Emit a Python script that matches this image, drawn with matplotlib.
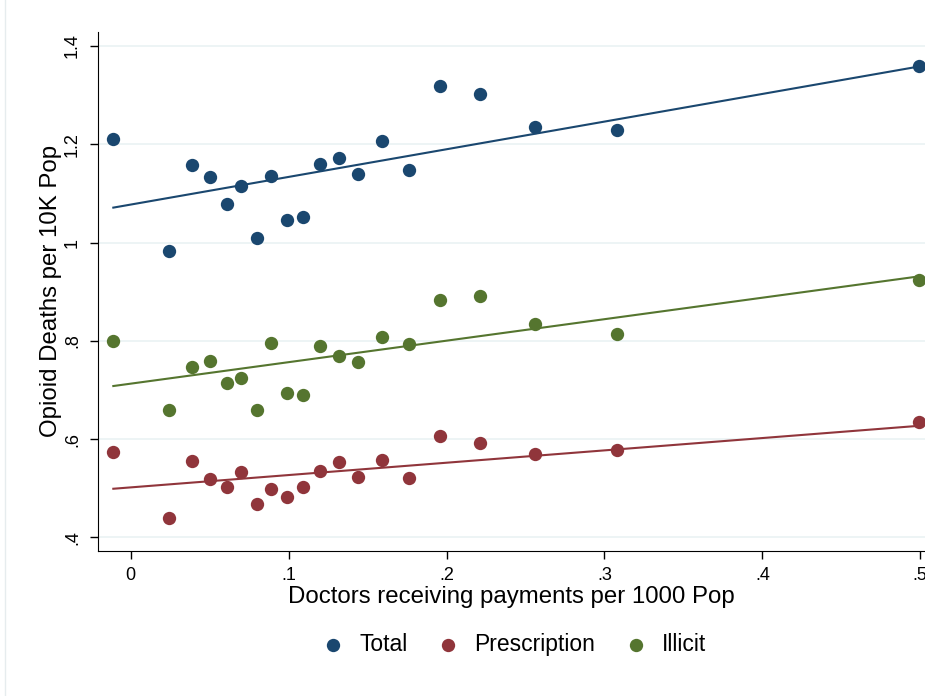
import numpy as np
import matplotlib.pyplot as plt
from matplotlib.lines import Line2D

plt.rcParams['font.family'] = ['Liberation Sans', 'DejaVu Sans']

# doctors receiving payments per 1000 pop
docs = [-0.011, 0.024, 0.039, 0.050, 0.061, 0.070, 0.080, 0.089, 0.099, 0.109,
        0.120, 0.132, 0.144, 0.159, 0.176, 0.196, 0.221, 0.256, 0.308, 0.499]
total = [1.210, 0.982, 1.157, 1.133, 1.078, 1.116, 1.010, 1.135, 1.045, 1.051,
         1.159, 1.171, 1.139, 1.206, 1.147, 1.318, 1.302, 1.235, 1.229, 1.359]
prescription = [0.573, 0.439, 0.555, 0.518, 0.502, 0.533, 0.467, 0.498, 0.482, 0.502,
                0.535, 0.553, 0.522, 0.557, 0.520, 0.606, 0.592, 0.569, 0.578, 0.635]
illicit = [0.800, 0.659, 0.747, 0.759, 0.714, 0.724, 0.659, 0.796, 0.694, 0.690,
           0.790, 0.769, 0.757, 0.808, 0.794, 0.884, 0.892, 0.835, 0.814, 0.924]

# fitted line values at the smallest and largest x
fit_total = [1.071, 1.358]
fit_prescription = [0.499, 0.627]
fit_illicit = [0.708, 0.931]

series = [('Total', total, fit_total, '#1a476f'),
          ('Prescription', prescription, fit_prescription, '#90353b'),
          ('Illicit', illicit, fit_illicit, '#55752f')]

xticks = [0, 0.1, 0.2, 0.3, 0.4, 0.5]
xticklabels = ['0', '.1', '.2', '.3', '.4', '.5']
yticks = [0.4, 0.6, 0.8, 1.0, 1.2, 1.4]
yticklabels = ['.4', '.6', '.8', '1', '1.2', '1.4']

fig = plt.figure(figsize=(9.25, 6.96), dpi=100)
ax = fig.add_axes([0.1056, 0.2088, 0.8944, 0.7457])

# faint left edge of the graph region
fig.add_artist(Line2D([0.0055, 0.0055], [0, 1], transform=fig.transFigure,
                      color='#e6ecee', lw=1))

xs = [min(docs), max(docs)]
for name, vals, fit, col in series:
    ax.scatter(docs, vals, s=92, color=col, label=name, zorder=3, linewidths=0)
    ax.plot(xs, fit, color=col, lw=1.5, zorder=2)

ax.set_xlim(-0.0209, 0.503)
ax.set_ylim(0.373, 1.429)
ax.set_xticks(xticks, labels=xticklabels)
ax.set_yticks(yticks, labels=yticklabels)
plt.setp(ax.get_yticklabels(), rotation=90, va='center')
ax.tick_params(axis='both', direction='out', length=6, width=1, labelsize=13, pad=6)
ax.yaxis.grid(True, color='#eaf2f3', lw=1.2)
ax.set_axisbelow(True)
for s in ['top', 'right']:
    ax.spines[s].set_visible(False)

ax.set_xlabel('Doctors receiving payments per 1000 Pop', fontsize=17.3, labelpad=1.5)
ax.set_ylabel('Opioid Deaths per 10K Pop', fontsize=17.3, labelpad=1.5)

fig.legend(loc='center', bbox_to_anchor=(0.5557, 0.0733), ncol=3, frameon=False,
           fontsize=16.5, handlelength=1.0, handletextpad=0.63, columnspacing=1.29,
           markerscale=1.0)

fig.savefig('out.png', dpi=100)
